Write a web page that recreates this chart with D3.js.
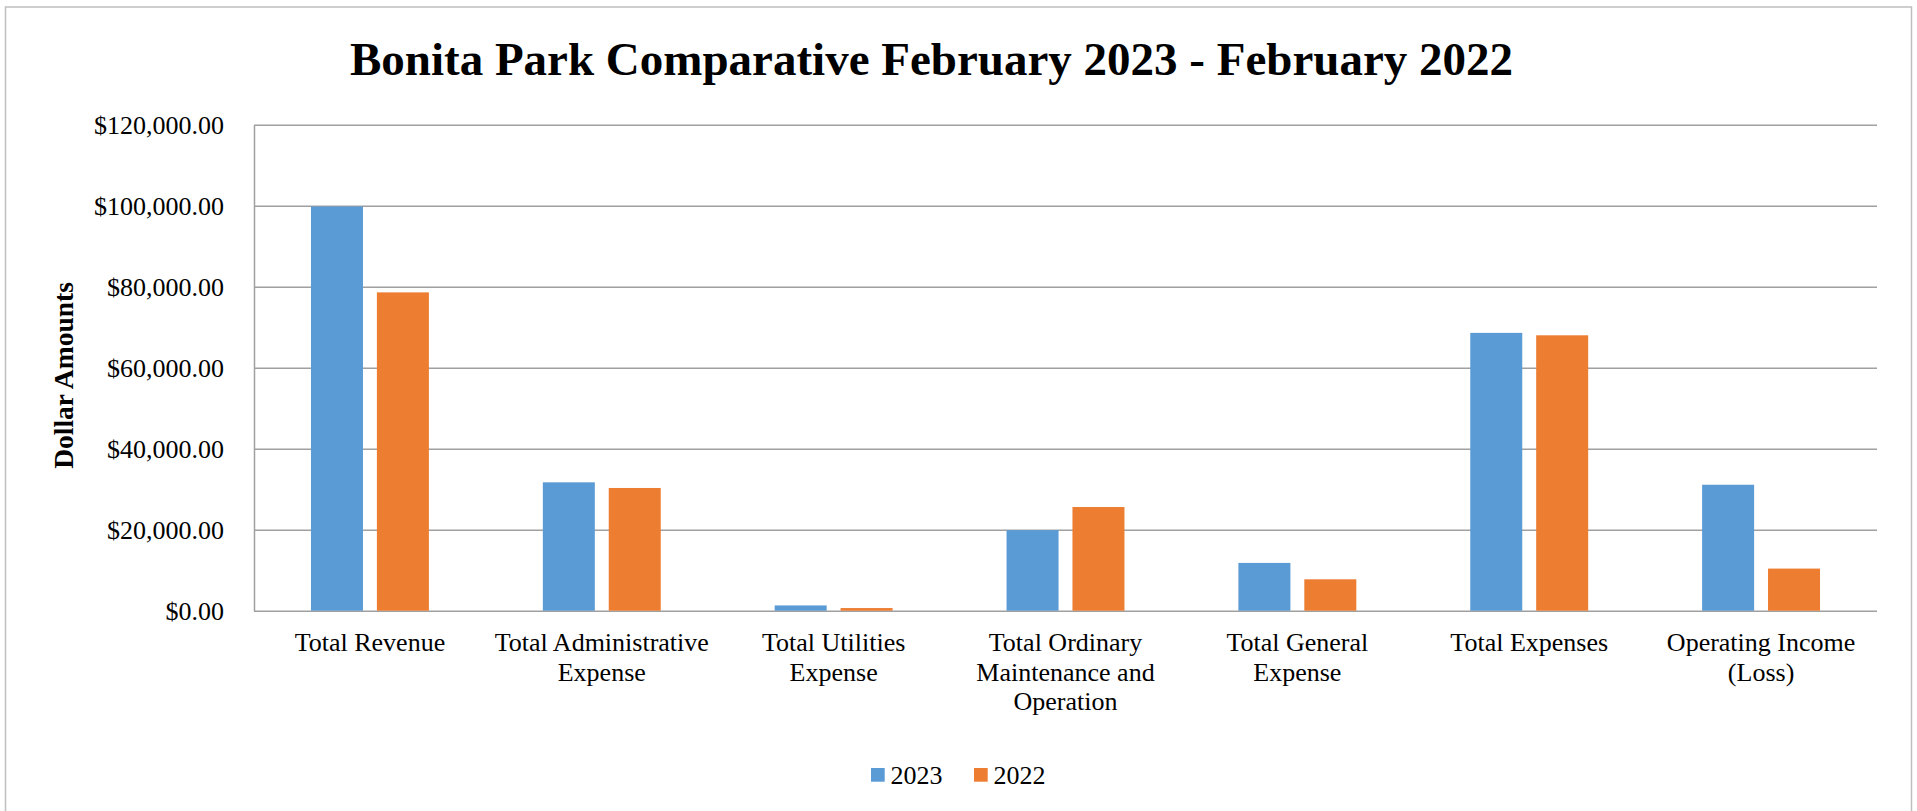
<!DOCTYPE html>
<html>
<head>
<meta charset="utf-8">
<script src="https://cdn.jsdelivr.net/npm/d3@7"></script>
<style>
  body { margin: 0; background: #fff; }
  text { font-family: "Liberation Serif", "Times New Roman", serif; fill: #000; }
</style>
</head>
<body>
<svg id="chart"></svg>
<script>
var categories = ["Total Revenue", "Total Administrative Expense", "Total Utilities Expense",
  "Total Ordinary Maintenance and Operation", "Total General Expense", "Total Expenses",
  "Operating Income (Loss)"];
var seriesNames = ["2023", "2022"];
var values2023 = [99800, 31700, 1300, 19900, 11800, 68600, 31100];
var values2022 = [78600, 30300, 650, 25600, 7750, 68000, 10400];
var yTicks = [0, 20000, 40000, 60000, 80000, 100000, 120000];
var colors = ["#5b9bd5", "#ed7d31"];

var width = 1917, height = 811;
var margin = {top: 124.7, right: 40, bottom: 200.3, left: 254};
var plotW = 1877 - margin.left,
    plotH = 610.7 - margin.top;

var svg = d3.select("#chart")
    .attr("width", width)
    .attr("height", height);

// outer frame
svg.append("rect")
    .attr("x", 5.5).attr("y", 7)
    .attr("width", 1906).attr("height", 820)
    .attr("fill", "none")
    .attr("stroke", "#bfbfbf")
    .attr("stroke-width", 1.5);

svg.append("text")
    .attr("x", 931.5).attr("y", 75)
    .attr("text-anchor", "middle")
    .style("font-size", "47px")
    .style("font-weight", "bold")
    .text("Bonita Park Comparative February 2023 - February 2022");

var g = svg.append("g").attr("transform", "translate(" + margin.left + "," + margin.top + ")");

var x0 = d3.scaleBand().domain(categories).range([0, plotW]);
var band = x0.bandwidth();
var barW = band * 0.2243, innerGap = band * 0.06;
var x1 = d3.scaleOrdinal().domain(seriesNames)
    .range([band / 2 - innerGap / 2 - barW, band / 2 + innerGap / 2]);

var y = d3.scaleLinear().domain([0, 120000]).range([plotH, 0]);

var fmt = d3.format(",.2f");
var yAxis = g.append("g")
    .call(d3.axisLeft(y).tickValues(yTicks).tickSize(-plotW).tickSizeOuter(0).tickPadding(30)
      .tickFormat(function(d) { return "$" + fmt(d); }));
yAxis.selectAll(".tick line").attr("stroke", "#a0a0a0").attr("stroke-width", 1.5);
yAxis.select(".domain").attr("stroke", "#a0a0a0").attr("stroke-width", 1.5);
yAxis.selectAll(".tick text")
    .style("font-size", "26px")
    .style("font-family", "'Liberation Serif', 'Times New Roman', serif")
    .attr("fill", "#000");

var rows = categories.map(function(c, i) {
  return {cat: c, vals: [values2023[i], values2022[i]]};
});

var groups = g.selectAll(".grp")
    .data(rows)
    .enter().append("g")
    .attr("class", "grp")
    .attr("transform", function(d) { return "translate(" + x0(d.cat) + ",0)"; });

groups.selectAll("rect")
    .data(function(d) { return d.vals.map(function(v, j) { return {s: seriesNames[j], v: v, j: j}; }); })
    .enter().append("rect")
    .attr("x", function(d) { return x1(d.s); })
    .attr("y", function(d) { return y(d.v); })
    .attr("width", barW)
    .attr("height", function(d) { return plotH - y(d.v); })
    .attr("fill", function(d) { return colors[d.j]; });

// category labels, wrapped to the band width
var labels = g.selectAll(".cat-label")
    .data(categories)
    .enter().append("text")
    .attr("class", "cat-label")
    .attr("text-anchor", "middle")
    .style("font-size", "26px")
    .attr("transform", function(d) { return "translate(" + (x0(d) + band / 2) + "," + (651 - margin.top) + ")"; });

labels.each(function(d) {
  var el = d3.select(this);
  var words = d.split(" "), line = [], lineNo = 0;
  var tspan = el.append("tspan").attr("x", 0).attr("dy", 0);
  words.forEach(function(w) {
    line.push(w);
    tspan.text(line.join(" "));
    if (tspan.node().getComputedTextLength() > band - 6 && line.length > 1) {
      line.pop();
      tspan.text(line.join(" "));
      line = [w];
      lineNo++;
      tspan = el.append("tspan").attr("x", 0).attr("dy", 29.7).text(w);
    }
  });
});

// y axis title
svg.append("text")
    .attr("transform", "translate(73,375.5) rotate(-90)")
    .attr("text-anchor", "middle")
    .style("font-size", "27.5px")
    .style("font-weight", "bold")
    .text("Dollar Amounts");

// legend
var legendX = [871, 974];
var legend = svg.selectAll(".legend")
    .data(seriesNames)
    .enter().append("g")
    .attr("class", "legend")
    .attr("transform", function(d, i) { return "translate(" + legendX[i] + ",768)"; });

legend.append("rect")
    .attr("width", 13.7).attr("height", 13.7)
    .attr("fill", function(d, i) { return colors[i]; });

legend.append("text")
    .attr("x", 19.5).attr("y", 16)
    .style("font-size", "26px")
    .text(function(d) { return d; });
</script>
</body>
</html>
